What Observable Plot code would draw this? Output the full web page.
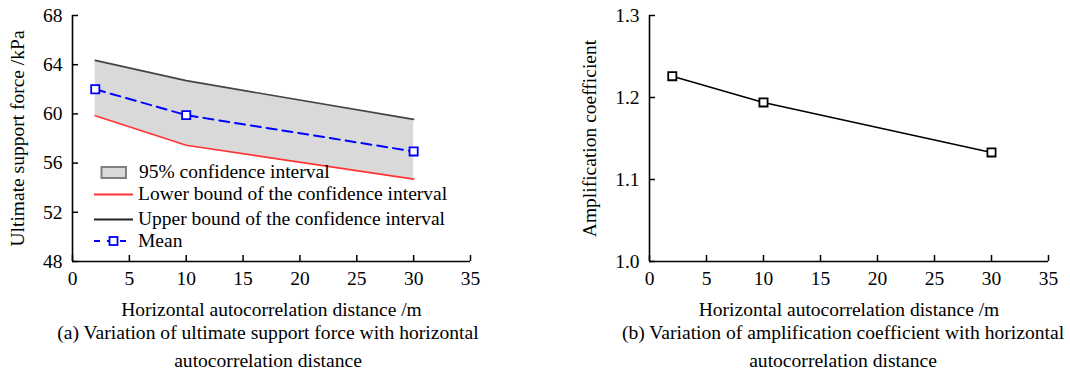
<!DOCTYPE html>
<html>
<head>
<meta charset="utf-8">
<script src="https://cdn.jsdelivr.net/npm/d3@7"></script>
<script src="https://cdn.jsdelivr.net/npm/@observablehq/plot@0.6"></script>
<style>
  html, body { margin: 0; padding: 0; background: #fff; }
  body { position: relative; width: 1070px; height: 372px; overflow: hidden;
         font-family: "Liberation Serif", "Times New Roman", serif; color: #000; }
  .panel { position: absolute; top: 0; }
  .caption { position: absolute; top: 319px; text-align: center; font-size: 19.6px;
             line-height: 28px; white-space: nowrap; }
  #legend { position: absolute; left: 0; top: 0; pointer-events: none; }
</style>
</head>
<body>
<div id="panelA" class="panel" style="left:0px"></div>
<div id="panelB" class="panel" style="left:535px"></div>
<div class="caption" style="left:0px;width:536px">(a) Variation of ultimate support force with horizontal<br>autocorrelation distance</div>
<div class="caption" style="left:593px;width:500px">(b) Variation of amplification coefficient with horizontal<br>autocorrelation distance</div>
<script>
// ---- data ----
const distance      = [2, 10, 30];
const lowerBound    = [59.85, 57.45, 54.7];
const upperBound    = [64.35, 62.7, 59.55];
const meanForce     = [62.0, 59.9, 56.95];
const amplification = [1.226, 1.194, 1.133];

const xTicks  = [0, 5, 10, 15, 20, 25, 30, 35];
const yTicksA = [48, 52, 56, 60, 64, 68];
const yTicksB = [1.0, 1.1, 1.2, 1.3];

const xLabel  = "Horizontal autocorrelation distance /m";
const yLabelA = "Ultimate support force /kPa";
const yLabelB = "Amplification coefficient";
const legendLabels = ["95% confidence interval", "Lower bound of the confidence interval",
                      "Upper bound of the confidence interval", "Mean"];

const rowsA = distance.map((d, i) => ({d, lo: lowerBound[i], hi: upperBound[i], mean: meanForce[i]}));
const rowsB = distance.map((d, i) => ({d, amp: amplification[i]}));

const font = "'Liberation Serif', 'Times New Roman', serif";
const style = {fontFamily: font, fontSize: "19.5px", background: "transparent", color: "#000", overflow: "visible"};

const chartA = Plot.plot({
  width: 535, height: 320,
  marginLeft: 72, marginRight: 65, marginTop: 15, marginBottom: 59,
  style,
  x: {domain: [0, 35]},
  y: {domain: [48, 68]},
  marks: [
    Plot.areaY(rowsA, {x: "d", y1: "lo", y2: "hi", fill: "#d9d9d9"}),
    Plot.lineY(rowsA, {x: "d", y: "lo", stroke: "#ff3333", strokeWidth: 1.7}),
    Plot.lineY(rowsA, {x: "d", y: "hi", stroke: "#444444", strokeWidth: 1.7}),
    Plot.lineY(rowsA, {x: "d", y: "mean", stroke: "#0000ff", strokeWidth: 2, strokeDasharray: "10,6"}),
    Plot.dot(rowsA, {x: "d", y: "mean", symbol: "square", r: 4.6, stroke: "#0000ff", strokeWidth: 1.8, fill: "white"}),
    Plot.axisX({ticks: xTicks, tickSize: -6, tickPadding: 16, strokeWidth: 1.5,
                label: xLabel, labelAnchor: "center", labelArrow: "none", labelOffset: 54}),
    Plot.axisY({ticks: yTicksA, tickSize: -6, tickPadding: 16, strokeWidth: 1.5,
                label: yLabelA, labelAnchor: "center", labelArrow: "none", labelOffset: 62}),
    Plot.ruleX([0], {stroke: "#000", strokeWidth: 1.6}),
    Plot.ruleY([48], {stroke: "#000", strokeWidth: 1.6})
  ]
});
document.getElementById("panelA").appendChild(chartA);

const chartB = Plot.plot({
  width: 535, height: 320,
  marginLeft: 114, marginRight: 22, marginTop: 15, marginBottom: 59,
  style,
  x: {domain: [0, 35]},
  y: {domain: [1.0, 1.3]},
  marks: [
    Plot.lineY(rowsB, {x: "d", y: "amp", stroke: "#000", strokeWidth: 1.6}),
    Plot.dot(rowsB, {x: "d", y: "amp", symbol: "square", r: 4.6, stroke: "#000", strokeWidth: 1.8, fill: "white"}),
    Plot.axisX({ticks: xTicks, tickSize: -6, tickPadding: 16, strokeWidth: 1.5,
                label: xLabel, labelAnchor: "center", labelArrow: "none", labelOffset: 54}),
    Plot.axisY({ticks: yTicksB, tickFormat: d3.format(".1f"), tickSize: -6, tickPadding: 16, strokeWidth: 1.5,
                label: yLabelB, labelAnchor: "center", labelArrow: "none", labelOffset: 67}),
    Plot.ruleX([0], {stroke: "#000", strokeWidth: 1.6}),
    Plot.ruleY([1.0], {stroke: "#000", strokeWidth: 1.6})
  ]
});
document.getElementById("panelB").appendChild(chartB);

// ---- legend overlay for panel (a) ----
const leg = d3.select("body").append("svg").attr("id", "legend")
  .attr("width", 535).attr("height", 320);
const rowY = [172.5, 194.5, 219.5, 241];
legendLabels.forEach((lab, i) => {
  const y = rowY[i];
  const g = leg.append("g");
  if (i === 0) {
    g.append("rect").attr("x", 101.5).attr("y", y - 5.5).attr("width", 24.5).attr("height", 11)
      .attr("fill", "#d9d9d9").attr("stroke", "#808080").attr("stroke-width", 2);
  } else if (i === 1) {
    g.append("line").attr("x1", 94).attr("x2", 133).attr("y1", y).attr("y2", y)
      .attr("stroke", "#ff3333").attr("stroke-width", 2);
  } else if (i === 2) {
    g.append("line").attr("x1", 94).attr("x2", 133).attr("y1", y).attr("y2", y)
      .attr("stroke", "#222").attr("stroke-width", 2);
  } else {
    g.append("line").attr("x1", 94).attr("x2", 133).attr("y1", y).attr("y2", y)
      .attr("stroke", "#0000ff").attr("stroke-width", 2).attr("stroke-dasharray", "6,7");
    g.append("rect").attr("x", 109.5).attr("y", y - 4).attr("width", 8).attr("height", 8)
      .attr("fill", "white").attr("stroke", "#0000ff").attr("stroke-width", 1.8);
  }
  g.append("text").attr("x", i === 0 ? 139 : 138).attr("y", y + 5.5)
    .attr("font-family", font).attr("font-size", 19.5).attr("fill", "#000").text(lab);
});
</script>
</body>
</html>
